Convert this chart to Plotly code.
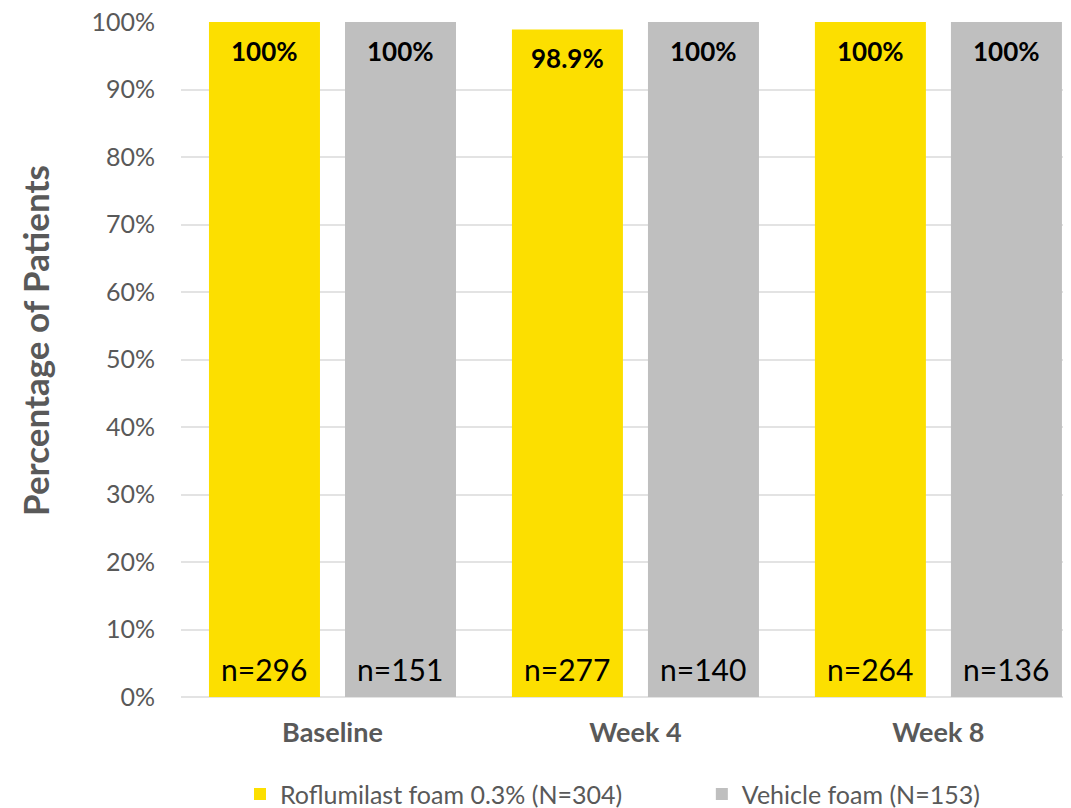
import plotly.graph_objects as go

categories = ['Baseline', 'Week 4', 'Week 8']
series_names = ['Roflumilast foam 0.3% (N=304)', 'Vehicle foam (N=153)']
roflumilast_pct = [100, 98.9, 100]
vehicle_pct = [100, 100, 100]
roflumilast_n = [296, 277, 264]
vehicle_n = [151, 140, 136]
y_ticks = [0, 10, 20, 30, 40, 50, 60, 70, 80, 90, 100]

colors = ['#FCDF00', '#BFBFBF']
font_family = 'Lato, Carlito, Calibri, sans-serif'
gray_text = '#595959'

fig = go.Figure()

series = [
    (series_names[0], roflumilast_pct, roflumilast_n, colors[0], -68, 'legend'),
    (series_names[1], vehicle_pct, vehicle_n, colors[1], 68, 'legend2'),
]

for name, pct, n, color, shift, leg in series:
    fig.add_trace(go.Bar(
        x=categories,
        y=pct,
        name=name,
        legend=leg,
        marker=dict(color=color, line=dict(width=0)),
    ))
    # value labels near the top of each bar, n labels near the bottom
    for cat, p, count in zip(categories, pct, n):
        label = f'{p:g}%'
        fig.add_annotation(
            x=cat, y=p, xshift=shift, yshift=-11,
            yanchor='top', showarrow=False,
            text=f'<b>{label}</b>',
            font=dict(family=font_family, size=26, color='black'),
        )
        fig.add_annotation(
            x=cat, y=0, xshift=shift, yshift=8,
            yanchor='bottom', showarrow=False,
            text=f'n={count}',
            font=dict(family=font_family, size=30, color='black'),
        )

# y axis title as a rotated annotation (sits a little above centre)
fig.add_annotation(
    xref='paper', yref='paper', x=-0.1626, y=0.529,
    xanchor='center', yanchor='middle', showarrow=False,
    textangle=-90,
    text='<b>Percentage of Patients</b>',
    font=dict(family=font_family, size=35, color=gray_text),
)

fig.update_xaxes(
    type='category',
    range=[-0.5, 2.464],
    showgrid=False,
    showline=False,
    ticks='',
    ticklabelstandoff=17,
    tickfont=dict(family=font_family, size=27, color=gray_text),
    tickvals=categories,
    ticktext=[f'<b>{c}</b>' for c in categories],
)

fig.update_yaxes(
    range=[0, 100],
    tickvals=y_ticks,
    ticktext=[f'{v}%' for v in y_ticks],
    ticklabeloverflow='allow',
    showgrid=True,
    gridcolor='#E3E3E3',
    gridwidth=1.5,
    zeroline=True,
    zerolinecolor='#E3E3E3',
    zerolinewidth=1.5,
    showline=False,
    ticks='',
    ticklabelstandoff=25,
    tickfont=dict(family=font_family, size=25, color=gray_text),
)

legend_style = dict(
    orientation='h',
    y=-0.11, yanchor='top',
    xanchor='left',
    font=dict(family=font_family, size=25, color=gray_text),
    itemwidth=30,
    bgcolor='rgba(0,0,0,0)',
)

fig.update_layout(
    width=1071,
    height=808,
    barmode='group',
    bargap=0.102,
    bargroupgap=0.184,
    margin=dict(l=173, r=0, t=14, b=119, autoexpand=False),
    plot_bgcolor='white',
    paper_bgcolor='white',
    showlegend=True,
    legend=dict(x=0.0657, **legend_style),
    legend2=dict(x=0.580, **legend_style),
)

fig.write_html("out.html")
